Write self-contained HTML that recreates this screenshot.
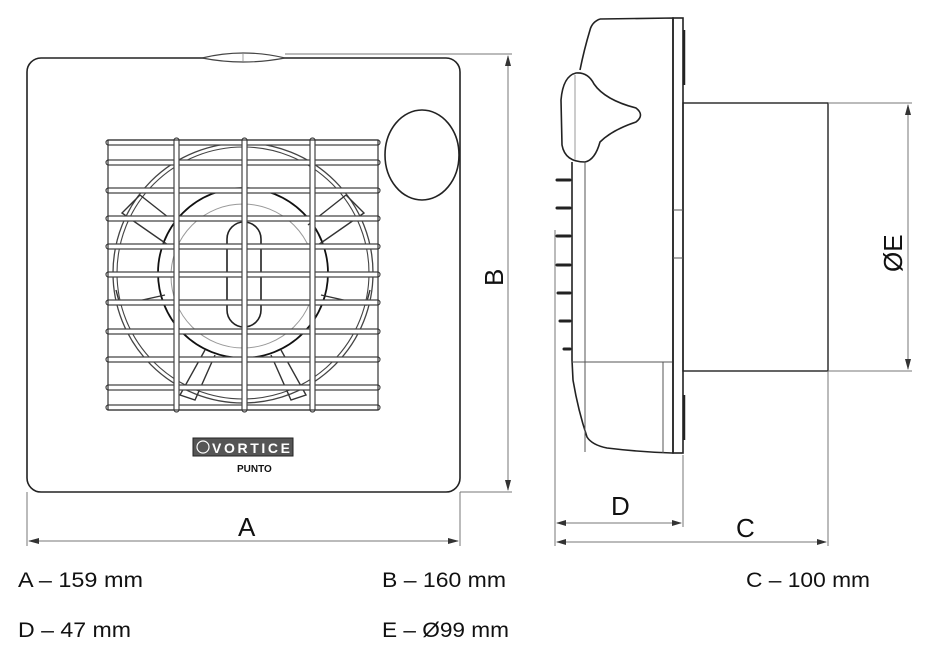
<!DOCTYPE html>
<html><head><meta charset="utf-8"><style>
html,body{margin:0;padding:0;background:#fff;}
svg{display:block;}
text{font-family:"Liberation Sans",sans-serif;fill:#111;}
</style></head><body>
<svg width="944" height="649" viewBox="0 0 944 649" xmlns="http://www.w3.org/2000/svg">
<g fill="none" stroke="#222" stroke-width="1.6">
<rect x="27" y="58" width="433" height="434" rx="14"/>
</g>
<path d="M202 58 Q243 48 285 58 Q243 66 202 58 Z" fill="#fff" stroke="#444" stroke-width="1.2"/>
<line x1="243" y1="52" x2="243" y2="63" stroke="#888" stroke-width="0.8"/>
<ellipse cx="422" cy="155" rx="37" ry="45" fill="#fff" stroke="#222" stroke-width="1.6"/>
<g fill="none">
<circle cx="243" cy="273" r="130" stroke="#444" stroke-width="1.3"/>
<circle cx="243" cy="273" r="126" stroke="#444" stroke-width="1.1"/>
<circle cx="243" cy="273" r="85" stroke="#111" stroke-width="1.8"/>
<circle cx="243" cy="276" r="72" stroke="#999" stroke-width="1"/>
<rect x="227" y="222" width="34" height="105" rx="17" stroke="#222" stroke-width="1.6"/>
<g stroke="#333" stroke-width="1.4">
<path d="M140 195 L122 213 L168 245 M140 195 L178 225"/>
<path d="M346 195 L364 213 L318 245 M346 195 L308 225"/>
<path d="M116 290 L120 305 L165 295"/>
<path d="M370 290 L366 305 L321 295"/>
<path d="M205 350 L180 395 L195 400 L215 355"/>
<path d="M281 350 L306 395 L291 400 L271 355"/>
</g>
</g>
<g fill="#fff" stroke="#444" stroke-width="1.2">
<rect x="106" y="140" width="274" height="5" rx="2.5"/>
<rect x="106" y="160" width="274" height="5" rx="2.5"/>
<rect x="106" y="188" width="274" height="5" rx="2.5"/>
<rect x="106" y="216" width="274" height="5" rx="2.5"/>
<rect x="106" y="244" width="274" height="5" rx="2.5"/>
<rect x="106" y="272" width="274" height="5" rx="2.5"/>
<rect x="106" y="300" width="274" height="5" rx="2.5"/>
<rect x="106" y="329" width="274" height="5" rx="2.5"/>
<rect x="106" y="357" width="274" height="5" rx="2.5"/>
<rect x="106" y="385" width="274" height="5" rx="2.5"/>
<rect x="106" y="405" width="274" height="5" rx="2.5"/>
<rect x="174" y="138" width="5" height="274" rx="2.5"/>
<rect x="242" y="138" width="5" height="274" rx="2.5"/>
<rect x="310" y="138" width="5" height="274" rx="2.5"/>
</g>
<g fill="none" stroke="#333" stroke-width="1.2">
<rect x="108" y="140" width="270" height="270"/>
</g>
<rect x="193" y="438" width="100" height="18" fill="#555" stroke="#222"/>
<circle cx="203" cy="447" r="6" fill="none" stroke="#fff" stroke-width="1.2"/>
<text x="212" y="453" font-size="14" font-weight="bold" style="fill:#fff" textLength="78">VORTICE</text>
<text x="237" y="472" font-size="10" font-weight="bold">PUNTO</text>
<g stroke="#777" stroke-width="1" fill="none">
<line x1="285" y1="54" x2="512" y2="54"/>
<line x1="460" y1="492" x2="512" y2="492"/>
<line x1="508" y1="56" x2="508" y2="490"/>
<line x1="27" y1="492" x2="27" y2="546"/>
<line x1="460" y1="492" x2="460" y2="546"/>
<line x1="29" y1="541" x2="458" y2="541"/>
</g>
<g fill="#333">
<path d="M508 55 L505 66 L511 66 Z"/><path d="M508 491 L505 480 L511 480 Z"/>
<path d="M28 541 L39 538 L39 544 Z"/><path d="M459 541 L448 538 L448 544 Z"/>
</g>
<text x="238" y="536" font-size="26">A</text>
<text transform="translate(503,286) rotate(-90)" font-size="26">B</text>

<g fill="none" stroke="#222" stroke-width="1.6">
<path d="M600 19 L673 18 L673 453 L672 453 Q640 452 607 448 Q592 445 587 437 Q578 410 573 380 L572 360 L572 162"/>
<path d="M600 19 Q592 22 590 30 Q584 50 580 70"/>
<path d="M585 162 Q565 162 562 145 L561 100 Q563 76 576 73 Q588 72 594 84 Q605 100 636 108 Q645 115 636 122 Q612 130 600 142 Q595 160 585 162 Z" fill="#fff"/>
<rect x="673" y="18" width="10" height="435"/>
<rect x="683" y="103" width="145" height="268" stroke-width="1.4"/>
</g>
<g stroke="#555" stroke-width="1" fill="none">
<line x1="585" y1="162" x2="585" y2="452"/>
<line x1="572" y1="362" x2="672" y2="362"/>
<line x1="663" y1="362" x2="663" y2="453"/>
<line x1="575" y1="75" x2="575" y2="160" stroke="#999"/>
<line x1="673" y1="210" x2="683" y2="210"/><line x1="673" y1="258" x2="683" y2="258"/>
</g>
<g stroke="#222" stroke-width="3" fill="#fff" stroke-linecap="round">
<line x1="557" y1="180" x2="570" y2="180"/>
<line x1="557" y1="208" x2="570" y2="208"/>
<line x1="557" y1="236" x2="570" y2="236"/>
<line x1="557" y1="265" x2="570" y2="265"/>
<line x1="558" y1="293" x2="570" y2="293"/>
<line x1="560" y1="321" x2="570" y2="321"/>
<line x1="564" y1="349" x2="570" y2="349"/>
</g>
<g stroke="#222" stroke-width="2.5">
<line x1="684" y1="30" x2="684" y2="85"/>
<line x1="684" y1="395" x2="684" y2="440"/>
</g>
<g stroke="#777" stroke-width="1" fill="none">
<line x1="555" y1="230" x2="555" y2="546"/>
<line x1="683" y1="455" x2="683" y2="527"/>
<line x1="828" y1="371" x2="828" y2="546"/>
<line x1="557" y1="523" x2="681" y2="523"/>
<line x1="557" y1="542" x2="826" y2="542"/>
<line x1="828" y1="103" x2="912" y2="103"/>
<line x1="828" y1="371" x2="912" y2="371"/>
<line x1="908" y1="105" x2="908" y2="369"/>
</g>
<g fill="#333">
<path d="M556 523 L566 520 L566 526 Z"/><path d="M682 523 L672 520 L672 526 Z"/>
<path d="M556 542 L566 539 L566 545 Z"/><path d="M827 542 L817 539 L817 545 Z"/>
<path d="M908 104 L905 115 L911 115 Z"/><path d="M908 370 L905 359 L911 359 Z"/>
</g>
<text x="611" y="515" font-size="26">D</text>
<text x="736" y="537" font-size="26">C</text>
<text transform="translate(902,272) rotate(-90)" font-size="26">ØE</text>

<g font-size="21">
<text x="18" y="587" textLength="125" lengthAdjust="spacingAndGlyphs">A – 159 mm</text>
<text x="382" y="587" textLength="124" lengthAdjust="spacingAndGlyphs">B – 160 mm</text>
<text x="746" y="587" textLength="124" lengthAdjust="spacingAndGlyphs">C – 100 mm</text>
<text x="18" y="637" textLength="113" lengthAdjust="spacingAndGlyphs">D – 47 mm</text>
<text x="382" y="637" textLength="127" lengthAdjust="spacingAndGlyphs">E – Ø99 mm</text>
</g>
</svg>
</body></html>
